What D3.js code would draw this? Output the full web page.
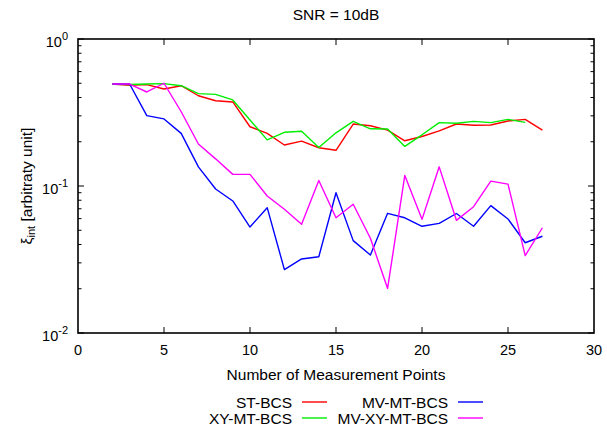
<!DOCTYPE html>
<html>
<head>
<meta charset="utf-8">
<script src="https://cdn.jsdelivr.net/npm/d3@7"></script>
<style>
  body { margin: 0; background: #fff; }
  svg text { font-family: "Liberation Sans", Arial, sans-serif; fill: #000; }
</style>
</head>
<body>
<svg id="chart" width="607" height="432"></svg>
<script>
// Reconstruction error vs. number of measurement points, SNR = 10 dB
const stX = d3.range(2, 28);
const stBCS = [0.494, 0.484, 0.489, 0.457, 0.481, 0.411, 0.380, 0.373, 0.253, 0.228,
  0.190, 0.202, 0.182, 0.175, 0.264, 0.257, 0.240, 0.203, 0.217, 0.237,
  0.264, 0.259, 0.260, 0.277, 0.284, 0.240];

const xyX = d3.range(2, 27);
const xyMTBCS = [0.492, 0.490, 0.494, 0.497, 0.481, 0.425, 0.420, 0.385, 0.281, 0.206,
  0.232, 0.236, 0.183, 0.230, 0.275, 0.245, 0.244, 0.186, 0.223, 0.270,
  0.267, 0.275, 0.270, 0.284, 0.271];

const mvX = d3.range(2, 28);
const mvMTBCS = [0.494, 0.494, 0.301, 0.286, 0.228, 0.135, 0.0954, 0.0791, 0.0526, 0.0712,
  0.0270, 0.0319, 0.0330, 0.0900, 0.0425, 0.0339, 0.0652, 0.0608, 0.0532, 0.0557,
  0.0650, 0.0532, 0.0735, 0.0597, 0.0411, 0.0455];

const mvxyX = d3.range(2, 28);
const mvXYMTBCS = [0.494, 0.494, 0.436, 0.500, 0.320, 0.193, 0.153, 0.120, 0.120, 0.0855,
  0.0694, 0.0549, 0.109, 0.0608, 0.0751, 0.0441, 0.0201, 0.118, 0.0593, 0.135,
  0.0584, 0.0723, 0.108, 0.103, 0.0336, 0.0520];

const seriesNames = ["ST-BCS", "XY-MT-BCS", "MV-MT-BCS", "MV-XY-MT-BCS"];
const seriesColors = ["#ff0000", "#00ee00", "#0000ff", "#ff00ff"];
const xTicks = [0, 5, 10, 15, 20, 25, 30];
const yDecades = [1, 0.1, 0.01];
const yDecadeExp = ["0", "-1", "-2"];

const series = [
  { name: seriesNames[0], color: seriesColors[0], x: stX, y: stBCS },
  { name: seriesNames[1], color: seriesColors[1], x: xyX, y: xyMTBCS },
  { name: seriesNames[2], color: seriesColors[2], x: mvX, y: mvMTBCS },
  { name: seriesNames[3], color: seriesColors[3], x: mvxyX, y: mvXYMTBCS }
];

const svg = d3.select("#chart");
const L = 78, R = 594, T = 39, B = 333;
const labelSize = 15.5, tickSize = 14.5;

const x = d3.scaleLinear().domain([0, 30]).range([L, R]);
const y = d3.scaleLog().domain([0.01, 1]).range([B, T]);

// Data lines
const line = d3.line().x(d => x(d[0])).y(d => y(d[1]));
series.forEach(s => {
  svg.append("path")
    .datum(s.x.map((xv, i) => [xv, s.y[i]]))
    .attr("d", line)
    .attr("fill", "none")
    .attr("stroke", s.color)
    .attr("stroke-width", 1.4)
    .attr("stroke-linejoin", "round");
});

// Ticks (inward, mirrored on all sides)
const tickG = svg.append("g").attr("stroke", "#000").attr("stroke-width", 1);
xTicks.forEach(t => {
  if (t === 0 || t === 30) return;
  tickG.append("line").attr("x1", x(t)).attr("x2", x(t)).attr("y1", B).attr("y2", B - 6);
  tickG.append("line").attr("x1", x(t)).attr("x2", x(t)).attr("y1", T).attr("y2", T + 6);
});
const minorTicks = [];
[0.01, 0.1].forEach(d => { for (let k = 2; k <= 9; k++) minorTicks.push(d * k); });
minorTicks.forEach(v => {
  tickG.append("line").attr("x1", L).attr("x2", L + 3.5).attr("y1", y(v)).attr("y2", y(v));
  tickG.append("line").attr("x1", R).attr("x2", R - 3.5).attr("y1", y(v)).attr("y2", y(v));
});
yDecades.forEach(v => {
  tickG.append("line").attr("x1", L).attr("x2", L + 6).attr("y1", y(v)).attr("y2", y(v));
  tickG.append("line").attr("x1", R).attr("x2", R - 6).attr("y1", y(v)).attr("y2", y(v));
});

// Frame
svg.append("rect")
  .attr("x", L).attr("y", T).attr("width", R - L).attr("height", B - T)
  .attr("fill", "none").attr("stroke", "#000").attr("stroke-width", 1.6);

// X tick labels
svg.append("g").selectAll("text").data(xTicks).join("text")
  .attr("x", d => x(d)).attr("y", B + 22)
  .attr("text-anchor", "middle").attr("font-size", tickSize)
  .text(d => d);

// Y tick labels: 10^n
yDecades.forEach((v, i) => {
  const t = svg.append("text")
    .attr("x", L - 10).attr("y", y(v) + 7.5)
    .attr("text-anchor", "end").attr("font-size", tickSize);
  t.append("tspan").text("10");
  t.append("tspan").attr("dy", -7).attr("font-size", 11).text(yDecadeExp[i]);
});

// Title
svg.append("text").attr("x", (L + R) / 2).attr("y", 20)
  .attr("text-anchor", "middle").attr("font-size", labelSize).text("SNR = 10dB");

// X axis label
svg.append("text").attr("x", (L + R) / 2).attr("y", 380)
  .attr("text-anchor", "middle").attr("font-size", labelSize).text("Number of Measurement Points");

// Y axis label
const yl = svg.append("text")
  .attr("transform", `translate(32,${(T + B) / 2}) rotate(-90)`)
  .attr("text-anchor", "middle").attr("font-size", labelSize);
yl.append("tspan").text("ξ");
yl.append("tspan").attr("dy", 3).attr("font-size", 11).text("int");
yl.append("tspan").attr("dy", -3).text(" [arbitraty unit]");

// Legend (two columns)
const legendPos = [
  { tx: 292, lx1: 302, lx2: 327, ly: 402 },
  { tx: 292, lx1: 302, lx2: 327, ly: 418 },
  { tx: 448, lx1: 458, lx2: 483, ly: 402 },
  { tx: 448, lx1: 458, lx2: 483, ly: 418 }
];
series.forEach((s, i) => {
  const p = legendPos[i];
  svg.append("text").attr("x", p.tx).attr("y", p.ly + 6)
    .attr("text-anchor", "end").attr("font-size", labelSize).text(s.name);
  svg.append("line").attr("x1", p.lx1).attr("x2", p.lx2)
    .attr("y1", p.ly).attr("y2", p.ly)
    .attr("stroke", s.color).attr("stroke-width", 1.4);
});
</script>
</body>
</html>
